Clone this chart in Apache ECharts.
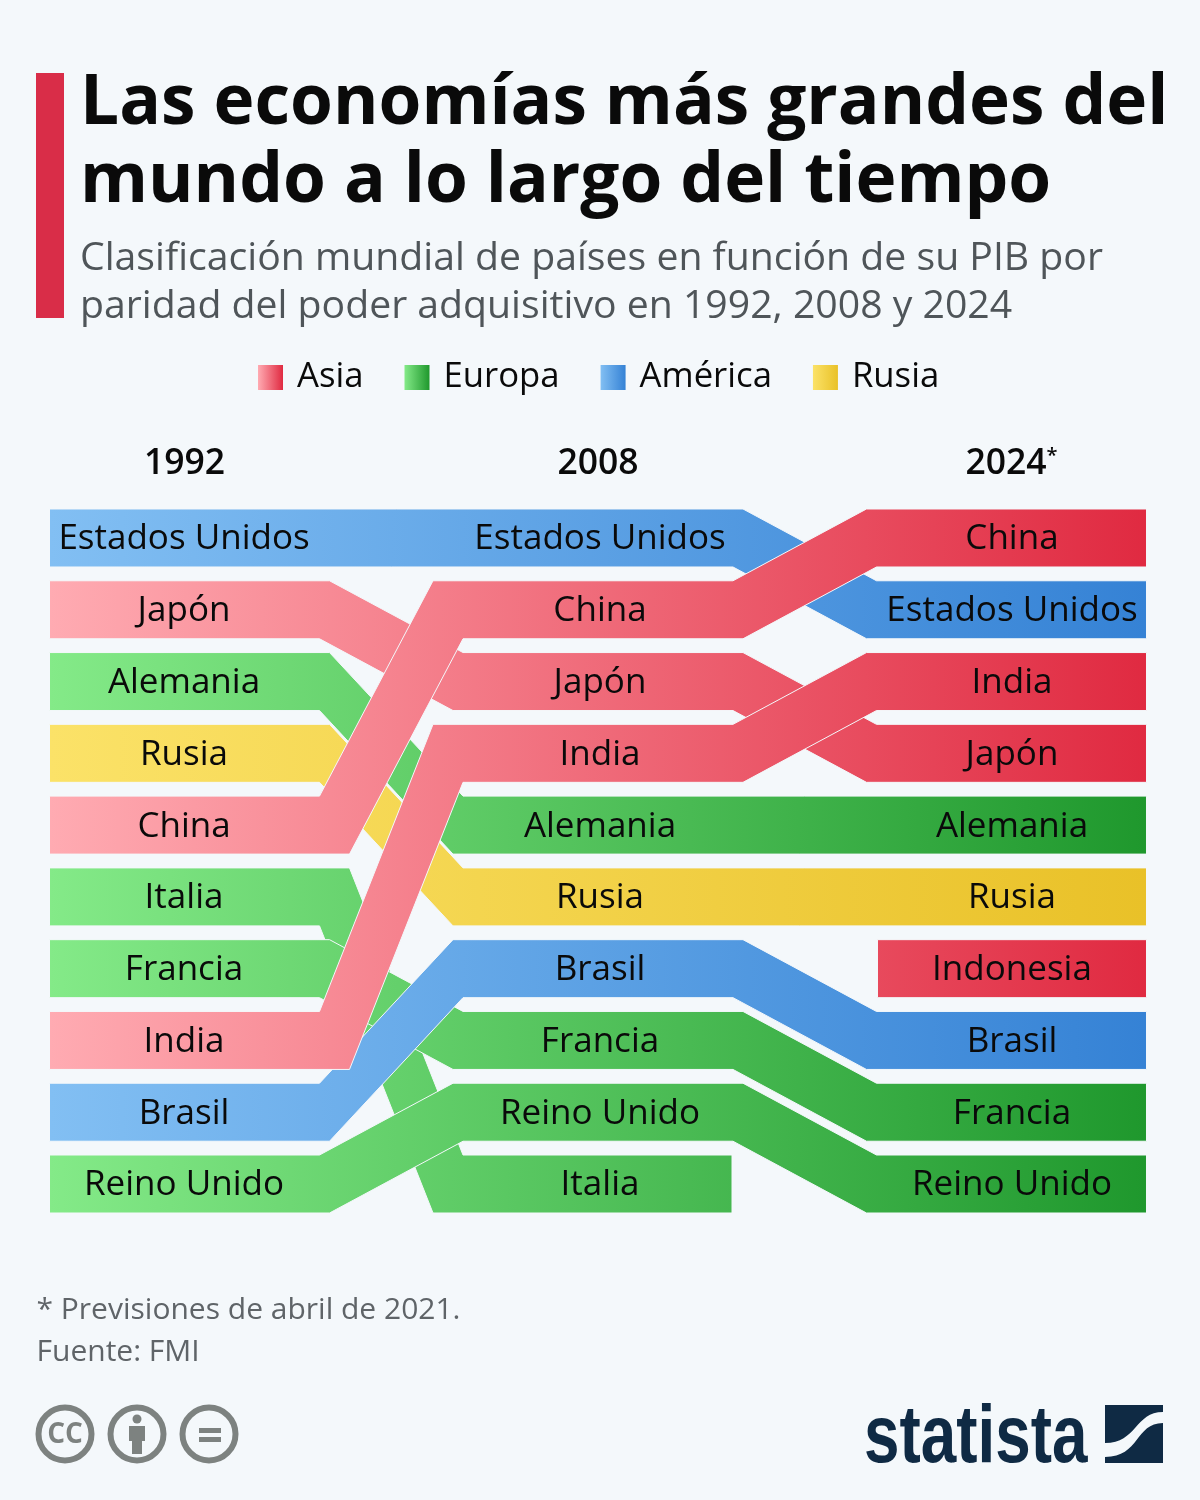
<!DOCTYPE html>
<html>
<head>
<meta charset="utf-8">
<style>
  html, body { margin: 0; padding: 0; background: #f4f8fb; }
  #chart { width: 1200px; height: 1500px; }
</style>
<script src="https://cdn.jsdelivr.net/npm/echarts@6/dist/echarts.min.js"></script>
</head>
<body>
<div id="chart"></div>
<script>
const years = ['1992', '2008', '2024'];
// listed in painting order within each region
const countries = ['Estados Unidos', 'Japón', 'China', 'India', 'Alemania', 'Rusia', 'Indonesia', 'Brasil', 'Italia', 'Francia', 'Reino Unido'];
const regions = ['América', 'Asia', 'Asia', 'Asia', 'Europa', 'Rusia', 'Asia', 'América', 'Europa', 'Europa', 'Europa'];
const rank1992 = [1, 2, 5, 8, 3, 4, null, 9, 6, 7, 10];
const rank2008 = [1, 3, 2, 4, 5, 6, null, 7, 10, 8, 9];
const rank2024 = [2, 4, 1, 3, 5, 6, 7, 8, null, 9, 10];

const legendOrder = ['Asia', 'Europa', 'América', 'Rusia'];
// painting order: the rising Asian ribbons sit on top of everything else
const paintOrder = ['Rusia', 'Europa', 'América', 'Asia'];
const regionColors = {
  'Asia': ['#ffabb2', '#e02a41'],
  'Europa': ['#84ea88', '#1f982d'],
  'América': ['#82bff3', '#3582d5'],
  'Rusia': ['#fbe268', '#e9c128']
};

const BG = '#f4f8fb';
const FONT = '"Open Sans", sans-serif';

// ribbon shape, in pixels around each column centre
const BAND_RATIO = 0.404;
const HALF = 135;
const HALF_INNER = 134;
const KNEE = 135;
const KNEE_SOFT = 145;
const KNEE_STEEP = 165;
const LABEL_SHIFT = [-0.5, 2, 0.5];

function stops(c) {
  return [{ offset: 0, color: c[0] }, { offset: 1, color: c[1] }];
}

function renderRibbon(params, api) {
  const name = countries[api.value(4)];
  const h = api.size([0, 1])[1] * BAND_RATIO;
  const cols = [];
  for (let i = 0; i < years.length; i++) {
    const r = api.value(i + 1);
    if (!isNaN(r)) {
      const p = api.coord([i, r]);
      cols.push({ i: i, r: r, x: p[0], y: p[1] });
    }
  }
  const top = [];
  const bot = [];
  const first = cols[0];
  const last = cols[cols.length - 1];
  // ribbons that start or stop at an inner column end a touch shorter
  const startX = first.x - (first.i === 0 ? HALF : HALF_INNER);
  const endX = last.x + (last.i === years.length - 1 ? HALF : HALF_INNER);
  top.push([startX, first.y - h]);
  bot.push([startX, first.y + h]);
  for (let k = 0; k + 1 < cols.length; k++) {
    const a = cols[k];
    const b = cols[k + 1];
    const d = b.r - a.r;
    if (d === 0) continue;
    const knee = Math.abs(d) >= 3 ? KNEE_STEEP : KNEE_SOFT;
    if (d < 0) {
      top.push([a.x + KNEE, a.y - h], [b.x - knee, b.y - h]);
      bot.push([a.x + knee, a.y + h], [b.x - KNEE, b.y + h]);
    } else {
      top.push([a.x + knee, a.y - h], [b.x - KNEE, b.y - h]);
      bot.push([a.x + KNEE, a.y + h], [b.x - knee, b.y + h]);
    }
  }
  top.push([endX, last.y - h]);
  bot.push([endX, last.y + h]);

  const c = regionColors[regions[api.value(4)]];
  const children = [{
    type: 'polygon',
    shape: { points: top.concat(bot.reverse()) },
    style: {
      fill: {
        type: 'linear', x: 50, y: 0, x2: 1146, y2: 0, global: true,
        colorStops: stops(c)
      },
      stroke: BG,
      lineWidth: 1
    }
  }];
  cols.forEach(function (col) {
    children.push({
      type: 'text',
      z2: 10,
      style: {
        text: name,
        x: col.x + LABEL_SHIFT[col.i],
        y: col.y + 1.5,
        textAlign: 'center',
        textVerticalAlign: 'middle',
        font: '35px ' + FONT,
        fill: '#0a0a0a'
      }
    });
  });
  return { type: 'group', children: children };
}

const series = paintOrder.map(function (region) {
  const rows = [];
  countries.forEach(function (name, i) {
    if (regions[i] === region) rows.push([0, rank1992[i], rank2008[i], rank2024[i], i]);
  });
  return {
    name: region,
    type: 'custom',
    clip: false,
    silent: true,
    itemStyle: { color: { type: 'linear', x: 0, y: 0, x2: 1, y2: 0, colorStops: stops(regionColors[region]) } },
    encode: { x: 0, y: 1 },
    renderItem: renderRibbon,
    data: rows
  };
});

const GREY = '#7d8280';
const NAVY = '#0f2a44';

// the two halves of the logo square
echarts.graphic.registerShape('logoTop', echarts.graphic.extendShape({
  buildPath: function (ctx) {
    ctx.moveTo(1105, 1405);
    ctx.lineTo(1163, 1405);
    ctx.lineTo(1163, 1412);
    ctx.bezierCurveTo(1135, 1412, 1137, 1443, 1105, 1443);
    ctx.closePath();
  }
}));
echarts.graphic.registerShape('logoBottom', echarts.graphic.extendShape({
  buildPath: function (ctx) {
    ctx.moveTo(1163, 1423);
    ctx.lineTo(1163, 1463);
    ctx.lineTo(1105, 1463);
    ctx.lineTo(1105, 1457);
    ctx.bezierCurveTo(1140, 1457, 1135, 1423, 1163, 1423);
    ctx.closePath();
  }
}));

const chart = echarts.init(document.getElementById('chart'), null, { renderer: 'canvas', width: 1200, height: 1500 });
chart.setOption({
  animation: false,
  backgroundColor: BG,
  textStyle: { fontFamily: FONT },
  title: {
    text: 'Las economías más grandes del\nmundo a lo largo del tiempo',
    left: 80,
    top: 65,
    padding: 0,
    itemGap: 14,
    textStyle: { fontFamily: FONT, fontWeight: 'bold', fontSize: 69.3, lineHeight: 78, color: '#0a0a0a' },
    subtext: 'Clasificación mundial de países en función de su PIB por\nparidad del poder adquisitivo en 1992, 2008 y 2024',
    subtextStyle: { fontFamily: FONT, fontSize: 39.2, lineHeight: 48, color: '#4f5559' }
  },
  legend: {
    data: legendOrder,
    left: 258,
    top: 360,
    padding: 0,
    icon: 'rect',
    itemWidth: 25,
    itemHeight: 25,
    itemGap: 41,
    selectedMode: false,
    textStyle: { fontFamily: FONT, fontSize: 34.7, color: '#0a0a0a', padding: [0, 0, 0, 9] }
  },
  grid: { left: 50, width: 1096, top: 502.1, height: 717.8 },
  xAxis: {
    type: 'value',
    position: 'top',
    min: -0.3253,
    max: 2.3253,
    axisLine: { show: false },
    axisTick: { show: false },
    splitLine: { show: false },
    axisLabel: {
      customValues: [0, 1, 2],
      margin: 20,
      formatter: function (v) {
        const y = years[v];
        return y === '2024' ? '{y|' + y + '}{s|*}' : '{y|' + y + '}';
      },
      rich: {
        y: { fontFamily: FONT, fontWeight: 600, fontSize: 35.5, color: '#0a0a0a' },
        s: { fontFamily: FONT, fontWeight: 600, fontSize: 20, color: '#0a0a0a', verticalAlign: 'top', padding: [0, 0, 12, 0] }
      }
    }
  },
  yAxis: { type: 'value', inverse: true, min: 0.5, max: 10.5, show: false, splitLine: { show: false } },
  series: series,
  graphic: [
    { type: 'rect', shape: { x: 36, y: 73, width: 28, height: 245 }, style: { fill: '#d92d48' } },
    { type: 'text', style: { text: '* Previsiones de abril de 2021.', x: 36.5, y: 1310, font: '30px ' + FONT, fill: '#5f6468', textVerticalAlign: 'middle' } },
    { type: 'text', style: { text: 'Fuente: FMI', x: 36.5, y: 1352, font: '30px ' + FONT, fill: '#5f6468', textVerticalAlign: 'middle' } },

    // licence badges
    { type: 'circle', shape: { cx: 65, cy: 1434, r: 26.5 }, style: { fill: 'none', stroke: GREY, lineWidth: 6 } },
    { type: 'text', style: { text: 'CC', x: 65, y: 1435, font: 'bold 28px ' + FONT, fill: GREY, textAlign: 'center', textVerticalAlign: 'middle' } },
    { type: 'circle', shape: { cx: 137, cy: 1434, r: 26.5 }, style: { fill: 'none', stroke: GREY, lineWidth: 6 } },
    { type: 'circle', shape: { cx: 137, cy: 1419, r: 4.5 }, style: { fill: GREY } },
    { type: 'polygon', shape: { points: [[129, 1426], [145, 1426], [145, 1441], [142, 1441], [142, 1454], [132, 1454], [132, 1441], [129, 1441]] }, style: { fill: GREY } },
    { type: 'circle', shape: { cx: 209, cy: 1434, r: 26.5 }, style: { fill: 'none', stroke: GREY, lineWidth: 6 } },
    { type: 'rect', shape: { x: 199, y: 1428, width: 22, height: 5 }, style: { fill: GREY } },
    { type: 'rect', shape: { x: 199, y: 1437, width: 22, height: 5 }, style: { fill: GREY } },

    // logo
    { type: 'text', x: 864, y: 1439, scaleX: 0.778, style: { text: 'statista', x: 0, y: 0, font: 'bold 82px "Liberation Sans", sans-serif', fill: NAVY, textVerticalAlign: 'middle' } },
    { type: 'logoTop', shape: {}, style: { fill: NAVY } },
    { type: 'logoBottom', shape: {}, style: { fill: NAVY } }
  ]
});
</script>
</body>
</html>
